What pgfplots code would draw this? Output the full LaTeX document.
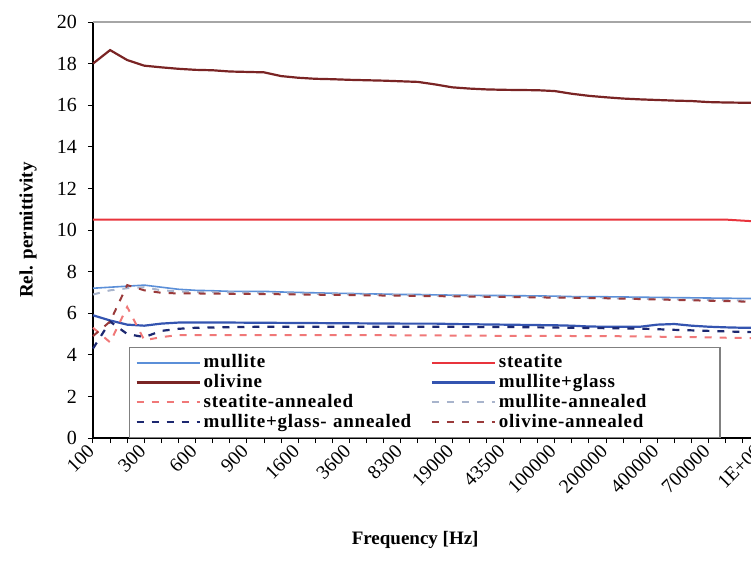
\documentclass[border=0pt]{standalone}
\usepackage{fontspec}
\setmainfont{Liberation Serif}
\newfontfamily\legfont[LetterSpace=4]{Liberation Serif}
\usepackage{pgfplots}
\pgfplotsset{compat=1.18}
\definecolor{cMul}{HTML}{5B8FD8}
\definecolor{cSte}{HTML}{E8343C}
\definecolor{cOli}{HTML}{7A2424}
\definecolor{cMG}{HTML}{3454B0}
\definecolor{cSteA}{HTML}{F07878}
\definecolor{cMulA}{HTML}{A8B4CC}
\definecolor{cMGA}{HTML}{1C2870}
\definecolor{cOliA}{HTML}{9A3A3A}
\begin{document}
\begin{tikzpicture}
\begin{axis}[
  name=ax,
  scale only axis,
  width=333.5pt, height=208pt,
  xmin=0, xmax=39, ymin=0, ymax=20,
  axis lines=left,
  axis line style={-, black, line width=0.6pt},
  ytick={0,2,...,20},
  xtick={0,3,...,39},
  xticklabels={100,300,600,900,1600,3600,8300,19000,43500,100000,200000,400000,700000,1E+06},
  minor x tick num=2,
  tick align=outside,
  major tick length=2.5pt, minor tick length=2.5pt,
  tick style={black, line width=0.5pt},
  /pgf/number format/assume math mode=true,
  yticklabel style={font=\fontsize{10}{12}\selectfont, xshift=-2pt},
  xticklabel style={font=\fontsize{9.8}{12}\selectfont, rotate=45, anchor=east, xshift=1pt, yshift=-1pt},
  ylabel={Rel. permittivity},
  xlabel={Frequency [Hz]},
  every axis y label/.style={at={(axis description cs:-0.0975,0.5)}, rotate=90, anchor=center, font=\fontsize{9.5}{11}\selectfont\bfseries},
  every axis x label/.style={at={(axis description cs:0.483,0)}, anchor=center, yshift=-51pt, font=\fontsize{9.5}{11}\selectfont\bfseries},
  legend columns=2,
  legend cell align=left,
  legend style={at={(axis cs:2.1,4.37)}, anchor=north west, draw=gray, line width=0.6pt,
    font=\fontsize{9.5}{10}\selectfont\legfont\bfseries, row sep=-1.2pt, inner xsep=3pt, inner ysep=2pt,
    nodes={text width=106pt, inner sep=1.5pt},
    /tikz/column 2/.style={column sep=6pt}},
  legend image code/.code={\draw[#1] (0cm,0cm) -- (31.5pt,0cm);},
  clip=false,
]
\addplot[cMul, line width=0.8pt] coordinates {(0,7.2)(1,7.25)(2,7.3)(3,7.35)(4,7.25)(5,7.15)(6,7.1)(7,7.08)(8,7.05)(9,7.05)(10,7.05)(11,7.02)(12,7.0)(13,6.98)(14,6.96)(15,6.95)(16,6.93)(17,6.92)(18,6.9)(19,6.9)(20,6.88)(21,6.87)(22,6.86)(23,6.85)(24,6.85)(25,6.84)(26,6.83)(27,6.82)(28,6.8)(29,6.8)(30,6.79)(31,6.78)(32,6.77)(33,6.76)(34,6.75)(35,6.74)(36,6.73)(37,6.72)(38,6.71)(39,6.7)};
\addlegendentry{mullite}
\addplot[cSte, line width=1pt] coordinates {(0,10.5)(1,10.5)(2,10.5)(3,10.5)(5,10.5)(10,10.5)(15,10.5)(20,10.5)(25,10.5)(30,10.5)(35,10.5)(37,10.5)(38,10.45)(39,10.4)};
\addlegendentry{steatite}
\addplot[cOli, line width=1.1pt] coordinates {(0,18.0)(1,18.65)(2,18.17)(3,17.9)(4,17.82)(5,17.75)(6,17.7)(7,17.68)(8,17.62)(9,17.6)(10,17.58)(11,17.4)(12,17.32)(13,17.27)(14,17.25)(15,17.22)(16,17.2)(17,17.18)(18,17.15)(19,17.12)(20,17.0)(21,16.86)(22,16.8)(23,16.76)(24,16.74)(25,16.73)(26,16.72)(27,16.68)(28,16.55)(29,16.45)(30,16.38)(31,16.32)(32,16.28)(33,16.25)(34,16.22)(35,16.2)(36,16.15)(37,16.13)(38,16.12)(39,16.12)};
\addlegendentry{olivine}
\addplot[cMG, line width=1.1pt] coordinates {(0,5.9)(1,5.65)(2,5.45)(3,5.4)(4,5.5)(5,5.55)(6,5.55)(8,5.55)(10,5.54)(12,5.53)(14,5.52)(16,5.51)(18,5.5)(20,5.5)(21,5.48)(23,5.46)(25,5.44)(27,5.42)(28,5.4)(29,5.36)(30,5.35)(32,5.35)(33,5.45)(34,5.48)(35,5.4)(36,5.35)(37,5.32)(38,5.3)(39,5.3)};
\addlegendentry{mullite+glass}
\addplot[cSteA, line width=1pt, dash pattern=on 3.5pt off 4pt] coordinates {(0,5.3)(1,4.6)(2,6.3)(3,4.7)(4,4.85)(5,4.95)(6,4.95)(10,4.95)(15,4.95)(20,4.93)(25,4.91)(30,4.9)(33,4.87)(35,4.85)(37,4.82)(39,4.8)};
\addlegendentry{steatite-annealed}
\addplot[cMulA, line width=1pt, dash pattern=on 3.5pt off 4pt] coordinates {(0,6.9)(1,7.1)(2,7.2)(3,7.25)(4,7.1)(5,7.05)(6,7.02)(8,7.0)(10,6.98)(12,6.95)(14,6.92)(16,6.9)(18,6.87)(20,6.85)(22,6.82)(24,6.8)(26,6.78)(28,6.75)(30,6.72)(32,6.7)(34,6.67)(36,6.64)(38,6.61)(39,6.6)};
\addlegendentry{mullite-annealed}
\addplot[cMGA, line width=1.1pt, dash pattern=on 3.5pt off 4pt] coordinates {(0,4.3)(1,5.6)(2,5.0)(3,4.85)(4,5.15)(5,5.25)(6,5.3)(8,5.33)(10,5.35)(15,5.35)(20,5.35)(25,5.33)(28,5.3)(30,5.28)(32,5.26)(34,5.2)(36,5.15)(38,5.1)(39,5.08)};
\addlegendentry{mullite+glass- annealed}
\addplot[cOliA, line width=1pt, dash pattern=on 3.5pt off 4pt] coordinates {(0,4.9)(1,5.6)(2,7.35)(3,7.1)(4,6.98)(5,6.95)(6,6.95)(8,6.93)(10,6.92)(12,6.9)(14,6.88)(16,6.86)(18,6.84)(20,6.82)(22,6.8)(24,6.78)(26,6.76)(28,6.74)(30,6.72)(32,6.68)(34,6.64)(36,6.6)(38,6.56)(39,6.55)};
\addlegendentry{olivine-annealed}
\draw[gray!70, line width=0.6pt] (axis cs:0,20) -- (axis cs:39,20);
\end{axis}
\pgfresetboundingbox
\useasboundingbox ([xshift=-46.5pt,yshift=-63pt]ax.south west) rectangle ([xshift=329pt,yshift=11pt]ax.north west);
\end{tikzpicture}
\end{document}
